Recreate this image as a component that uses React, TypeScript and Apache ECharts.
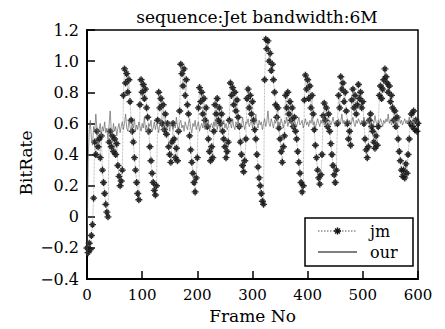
import React, { useEffect, useRef } from "react";
import * as echarts from "echarts";

const TITLE = "sequence:Jet bandwidth:6M";
const X_NAME = "Frame No";
const Y_NAME = "BitRate";
const LEGEND_NAMES = ["jm", "our"];
const FRAME_STEP = 2;

// jm bitrate, one value every 2 frames (frames 0..600)
const jmValues = [
  -0.2, -0.23, -0.17, -0.21, -0.12, -0.05,
  0.12, 0.48, 0.4, 0.55, 0.45, 0.5, 0.38, 0.52,
  0.3, 0.22, 0.15, 0.08, 0.03, 0.0,
  0.48, 0.55, 0.45, 0.52, 0.42, 0.5, 0.4, 0.47,
  0.33, 0.26, 0.2, 0.23, 0.3,
  0.78, 0.95, 0.86, 0.92, 0.8, 0.88, 0.74,
  0.62, 0.55,
  0.48, 0.38, 0.3, 0.22, 0.15, 0.11,
  0.72, 0.88, 0.8, 0.85, 0.76, 0.82, 0.7, 0.64,
  0.55, 0.45, 0.36, 0.28, 0.22, 0.17, 0.14, 0.2,
  0.62, 0.8, 0.7, 0.76, 0.6, 0.72, 0.56, 0.66, 0.53, 0.6,
  0.45, 0.4, 0.35, 0.48, 0.6, 0.5, 0.38, 0.44, 0.36, 0.55, 0.68,
  0.98, 0.92, 0.84, 0.95, 0.78, 0.88, 0.72, 0.66,
  0.52, 0.43, 0.35, 0.28, 0.22, 0.16, 0.25, 0.38,
  0.7, 0.83, 0.74, 0.8, 0.66, 0.76, 0.62, 0.7, 0.58,
  0.5, 0.42, 0.36, 0.45, 0.38, 0.55,
  0.72, 0.66, 0.76, 0.62, 0.7, 0.6, 0.66, 0.55, 0.5,
  0.45, 0.38, 0.42, 0.48, 0.62,
  0.86, 0.78, 0.83, 0.72, 0.8, 0.68, 0.75, 0.64, 0.58,
  0.48, 0.4, 0.33, 0.29, 0.36, 0.5,
  0.76, 0.82, 0.7, 0.78, 0.66, 0.74, 0.62, 0.56,
  0.5, 0.4, 0.32, 0.25, 0.2, 0.15, 0.1, 0.08,
  0.88, 1.14, 1.08, 1.13, 1.0, 1.05, 0.94, 0.98, 0.88,
  0.8, 0.72, 0.64, 0.7, 0.57,
  0.5, 0.42, 0.35, 0.45, 0.52,
  0.78, 0.7, 0.8, 0.66, 0.74, 0.62, 0.7, 0.58, 0.64, 0.55,
  0.5, 0.42, 0.35, 0.28, 0.22, 0.16, 0.2,
  0.75, 0.91, 0.82, 0.88, 0.76, 0.84, 0.7, 0.78, 0.66,
  0.56, 0.46, 0.38, 0.3, 0.25, 0.21, 0.27, 0.4,
  0.65, 0.73, 0.62, 0.7, 0.58, 0.66, 0.55,
  0.47, 0.4, 0.33, 0.27, 0.22, 0.3,
  0.6, 0.78, 0.7, 0.9, 0.82, 0.86, 0.74, 0.8, 0.68, 0.6,
  0.5, 0.55, 0.46, 0.75, 0.82, 0.7, 0.78, 0.66, 0.72,
  0.85, 0.76, 0.8, 0.7, 0.74, 0.6, 0.5, 0.43, 0.38, 0.45,
  0.62, 0.66, 0.58, 0.55, 0.48, 0.44, 0.52, 0.46, 0.58,
  0.78, 0.84, 0.76, 0.82, 0.88, 0.95, 0.9, 0.86, 0.8, 0.84, 0.74, 0.78,
  0.7, 0.62, 0.68, 0.58, 0.64, 0.5,
  0.42, 0.36, 0.3, 0.26, 0.3, 0.25, 0.34, 0.28, 0.4, 0.5,
  0.6, 0.66, 0.58, 0.68, 0.56, 0.62, 0.55, 0.6,
];

// our bitrate, one value every 2 frames (frames 0..600)
const ourValues = [
  -0.25, 0.35, 0.56, 0.62, 0.5, 0.46, 0.58, 0.55, 0.66, 0.57,
  0.53, 0.56, 0.6, 0.52, 0.58, 0.55, 0.61, 0.54, 0.57, 0.5,
  0.59, 0.68, 0.56, 0.53, 0.6, 0.55, 0.58, 0.52, 0.57, 0.6,
  0.54, 0.58, 0.61, 0.56, 0.6, 0.66, 0.57, 0.55, 0.62, 0.58,
  0.54, 0.6, 0.57, 0.63, 0.55, 0.59, 0.56, 0.61, 0.58, 0.55,
  0.6, 0.57, 0.64, 0.56, 0.59, 0.53, 0.6, 0.58, 0.62, 0.55,
  0.57, 0.61, 0.56, 0.6, 0.58, 0.54, 0.6, 0.63, 0.57, 0.55,
  0.59, 0.62, 0.56, 0.58, 0.6, 0.55, 0.61, 0.58, 0.56, 0.6,
  0.57, 0.64, 0.58, 0.55, 0.6, 0.62, 0.57, 0.59, 0.55, 0.61,
  0.58, 0.56, 0.6, 0.63, 0.57, 0.54, 0.6, 0.58, 0.62, 0.56,
  0.59, 0.61, 0.55, 0.58, 0.6, 0.57, 0.63, 0.56, 0.6, 0.58,
  0.62, 0.55, 0.59, 0.6, 0.57, 0.61, 0.58, 0.63, 0.56, 0.6,
  0.58, 0.55, 0.61, 0.59, 0.62, 0.57, 0.6, 0.56, 0.58, 0.62,
  0.6, 0.57, 0.63, 0.58, 0.56, 0.61, 0.59, 0.62, 0.57, 0.6,
  0.58, 0.64, 0.59, 0.56, 0.61, 0.6, 0.63, 0.58, 0.6, 0.62,
  0.57, 0.61, 0.59, 0.66, 0.6, 0.57, 0.62, 0.59, 0.61, 0.56,
  0.6, 0.63, 0.58, 0.61, 0.68, 0.6, 0.58, 0.63, 0.6, 0.57,
  0.62, 0.6, 0.65, 0.58, 0.61, 0.59, 0.63, 0.6, 0.57, 0.62,
  0.6, 0.64, 0.58, 0.61, 0.6, 0.63, 0.59, 0.57, 0.62, 0.6,
  0.58, 0.61, 0.64, 0.59, 0.6, 0.62, 0.57, 0.6, 0.63, 0.59,
  0.61, 0.58, 0.62, 0.6, 0.64, 0.59, 0.61, 0.57, 0.6, 0.63,
  0.6, 0.58, 0.62, 0.6, 0.65, 0.59, 0.61, 0.63, 0.58, 0.6,
  0.62, 0.59, 0.61, 0.64, 0.6, 0.58, 0.62, 0.6, 0.63, 0.59,
  0.61, 0.66, 0.6, 0.62, 0.58, 0.61, 0.63, 0.6, 0.62, 0.59,
  0.61, 0.64, 0.6, 0.58, 0.62, 0.6, 0.63, 0.61, 0.59, 0.62,
  0.6, 0.64, 0.61, 0.59, 0.62, 0.6, 0.63, 0.58, 0.61, 0.62,
  0.6, 0.65, 0.61, 0.59, 0.62, 0.6, 0.63, 0.61, 0.58, 0.62,
  0.6, 0.63, 0.61, 0.66, 0.6, 0.62, 0.59, 0.61, 0.63, 0.6,
  0.62, 0.58, 0.61, 0.64, 0.6, 0.62, 0.59, 0.61, 0.63, 0.6,
  0.62, 0.6, 0.64, 0.61, 0.59, 0.62, 0.6, 0.63, 0.61, 0.6,
  0.62,
];

const X_MIN = 0;
const X_MAX = 600;
const X_INTERVAL = 100;
const Y_MIN = -0.4;
const Y_MAX = 1.2;
const Y_INTERVAL = 0.2;

const FONT = "DejaVu Serif";
const ASTERISK =
  "path://M4 0H6V4H10V6H6V10H4V6H0V4H4Z M7.12 1.46L8.54 2.88L6.41 5L8.54 7.12L7.12 8.54L5 6.41L2.88 8.54L1.46 7.12L3.59 5L1.46 2.88L2.88 1.46L5 3.59Z";

export default function App() {
  const ref = useRef<HTMLDivElement>(null);
  useEffect(() => {
    if (!ref.current) return;
    const chart = echarts.init(ref.current, null, { renderer: "svg" });
    const jmData = jmValues.map((v, i) => [i * FRAME_STEP, v]);
    const ourData = ourValues.map((v, i) => [i * FRAME_STEP, v]);

    const lgX = 305, lgY = 218, lgW = 108, lgH = 48;
    const row1 = 231, row2 = 252;
    const sx1 = 318, sx2 = 357, tx = 370;
    const mx = (sx1 + sx2) / 2;

    chart.setOption({
      animation: false,
      backgroundColor: "#fff",
      title: {
        text: TITLE,
        left: 252,
        textAlign: "center",
        top: 3,
        textStyle: { fontFamily: FONT, fontSize: 17, fontWeight: "normal", color: "#000" },
      },
      grid: {
        left: 87,
        right: 27,
        top: 30,
        bottom: 48,
        show: true,
        borderColor: "#000",
        borderWidth: 1.5,
      },
      xAxis: {
        type: "value",
        min: X_MIN,
        max: X_MAX,
        interval: X_INTERVAL,
        axisLine: { onZero: false, lineStyle: { color: "#000", width: 2 } },
        axisTick: { inside: true, length: 8, lineStyle: { color: "#000", width: 1.5 } },
        axisLabel: { fontFamily: FONT, fontSize: 15, color: "#000", margin: 8 },
        splitLine: { show: false },
        name: X_NAME,
        nameLocation: "middle",
        nameGap: 27,
        nameTextStyle: { fontFamily: FONT, fontSize: 17, color: "#000" },
      },
      yAxis: {
        type: "value",
        min: Y_MIN,
        max: Y_MAX,
        interval: Y_INTERVAL,
        axisLine: { show: true, onZero: false, lineStyle: { color: "#000", width: 2 } },
        axisTick: { show: true, inside: true, length: 8, lineStyle: { color: "#000", width: 1.5 } },
        axisLabel: {
          fontFamily: FONT,
          fontSize: 16,
          color: "#000",
          margin: 8,
          formatter: (v: number) => {
            if (Math.abs(v) < 1e-9) return "0";
            const s = Math.abs(v).toFixed(1);
            return v < 0 ? "\u2212" + s : s;
          },
        },
        splitLine: { show: false },
      },
      graphic: [
        {
          type: "text",
          x: 26,
          y: 163,
          rotation: Math.PI / 2,
          style: {
            text: Y_NAME,
            align: "center",
            verticalAlign: "middle",
            font: `17px "${FONT}"`,
            fill: "#000",
          },
        },
        {
          type: "group",
          z: 100,
          children: [
            {
              type: "rect",
              shape: { x: lgX, y: lgY, width: lgW, height: lgH },
              style: { fill: "#fff", stroke: "#000", lineWidth: 1.5 },
              z: 100,
            },
            {
              type: "line",
              shape: { x1: sx1, y1: row1, x2: sx2, y2: row1 },
              style: { stroke: "#555", lineWidth: 1, lineDash: [1.5, 1.5] },
              z: 101,
            },
            {
              type: "line",
              shape: { x1: mx - 3.5, y1: row1, x2: mx + 3.5, y2: row1 },
              style: { stroke: "#111", lineWidth: 1.6 },
              z: 102,
            },
            {
              type: "line",
              shape: { x1: mx, y1: row1 - 3.5, x2: mx, y2: row1 + 3.5 },
              style: { stroke: "#111", lineWidth: 1.6 },
              z: 102,
            },
            {
              type: "line",
              shape: { x1: mx - 2.5, y1: row1 - 2.5, x2: mx + 2.5, y2: row1 + 2.5 },
              style: { stroke: "#111", lineWidth: 1.2 },
              z: 102,
            },
            {
              type: "line",
              shape: { x1: mx - 2.5, y1: row1 + 2.5, x2: mx + 2.5, y2: row1 - 2.5 },
              style: { stroke: "#111", lineWidth: 1.2 },
              z: 102,
            },
            {
              type: "text",
              x: tx,
              y: row1,
              style: { text: LEGEND_NAMES[0], font: `16px "${FONT}"`, fill: "#000", verticalAlign: "middle" },
              z: 102,
            },
            {
              type: "line",
              shape: { x1: sx1, y1: row2, x2: sx2, y2: row2 },
              style: { stroke: "#000", lineWidth: 1.2 },
              z: 101,
            },
            {
              type: "text",
              x: tx,
              y: row2,
              style: { text: LEGEND_NAMES[1], font: `16px "${FONT}"`, fill: "#000", verticalAlign: "middle" },
              z: 102,
            },
          ],
        },
      ],
      series: [
        {
          name: LEGEND_NAMES[0],
          type: "line",
          data: jmData,
          symbol: ASTERISK,
          symbolSize: 7,
          showAllSymbol: true,
          itemStyle: { color: "#151515", opacity: 0.9 },
          lineStyle: { type: "dotted", width: 0.7, color: "#888" },
          z: 2,
        },
        {
          name: LEGEND_NAMES[1],
          type: "line",
          data: ourData,
          showSymbol: false,
          symbol: "none",
          lineStyle: { width: 0.7, color: "#666" },
          z: 3,
        },
      ],
    });
    return () => chart.dispose();
  }, []);
  return <div ref={ref} style={{ width: 445, height: 329, position: "absolute", left: 0, top: 0 }} />;
}
